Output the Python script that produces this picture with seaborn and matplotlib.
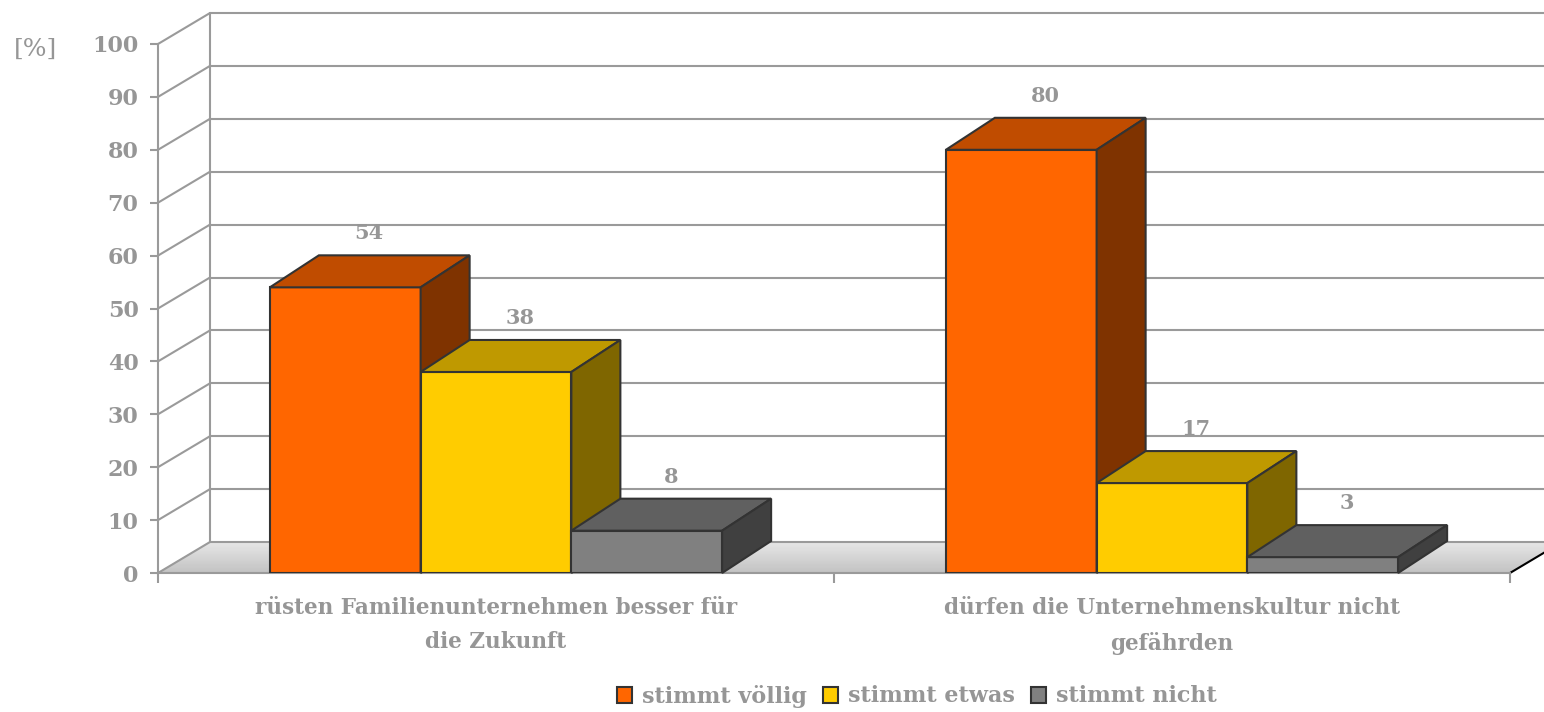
import numpy as np
import pandas as pd
import matplotlib
matplotlib.use("Agg")
import matplotlib.pyplot as plt
import seaborn as sns
from matplotlib.patches import Polygon, Patch
from matplotlib.colors import LinearSegmentedColormap

# ---------------- data ----------------
categories = ["rüsten Familienunternehmen besser für\ndie Zukunft",
              "dürfen die Unternehmenskultur nicht\ngefährden"]
series = ["stimmt völlig", "stimmt etwas", "stimmt nicht"]
stimmt_voellig = [54, 80]
stimmt_etwas = [38, 17]
stimmt_nicht = [8, 3]
yticks = [0, 10, 20, 30, 40, 50, 60, 70, 80, 90, 100]
y_unit_label = "[%]"

# ---------------- style ----------------
front_colors = ["#FF6600", "#FFCC00", "#808080"]
top_colors = ["#C04C00", "#BF9900", "#606060"]
side_colors = ["#7F3300", "#7F6600", "#404040"]
edge = "#333333"
grid = "#9a9a9a"
txt = "#969696"
WALL = (52, 31)   # pixel depth of walls
BAR = (49, 32)    # pixel depth of bars

sns.set_style("white")
plt.rcParams["font.family"] = ["DejaVu Serif", "DejaVu Sans"]

values = [stimmt_voellig, stimmt_etwas, stimmt_nicht]
df = pd.DataFrame({
    "Kategorie": [c for s in series for c in categories],
    "Serie": [s for s in series for _ in categories],
    "Wert": [v for vals in values for v in vals],
})

W, H = 1544, 712
fig = plt.figure(figsize=(W / 100, H / 100), dpi=100)
ax = fig.add_axes([158 / W, (H - 573) / H, 1352 / W, 529 / H])
ax.set_facecolor("none")

sns.barplot(data=df, x="Kategorie", y="Wert", hue="Serie", order=categories,
            hue_order=series, palette=front_colors, saturation=1, width=0.669,
            gap=0, edgecolor=edge, linewidth=1.5, legend=False, ax=ax)

x0, x1 = -0.5, len(categories) - 0.5
ax.set_xlim(x0, x1)
ax.set_ylim(0, 100)

tD = ax.transData
inv = tD.inverted()


def shift(x, y, dxp, dyp):
    X, Y = tD.transform((x, y))
    return tuple(inv.transform((X + dxp, Y + dyp)))


# back wall grid + left wall diagonals
for t in yticks:
    a = shift(x0, t, *WALL)
    b = shift(x1, t, *WALL)
    ax.plot([a[0], b[0]], [a[1], b[1]], color=grid, lw=1.5, clip_on=False, zorder=3)
    ax.plot([x0, a[0]], [t, a[1]], color=grid, lw=1.5, clip_on=False, zorder=3)
a = shift(x0, yticks[0], *WALL)
b = shift(x0, yticks[-1], *WALL)
ax.plot([a[0], b[0]], [a[1], b[1]], color=grid, lw=1.5, clip_on=False, zorder=3)

# floor with gradient (drawn as thin strips)
cmap = LinearSegmentedColormap.from_list("floor", ["#c2c2c2", "#e6e6e6"])
nstrip = 40
for i in range(nstrip):
    f0, f1 = i / nstrip, (i + 1) / nstrip
    pts = [shift(x0, 0, WALL[0] * f0, WALL[1] * f0),
           shift(x1, 0, WALL[0] * f0, WALL[1] * f0),
           shift(x1, 0, WALL[0] * f1, WALL[1] * f1),
           shift(x0, 0, WALL[0] * f1, WALL[1] * f1)]
    ax.add_patch(Polygon(pts, closed=True, facecolor=cmap((f0 + f1) / 2),
                         edgecolor=cmap((f0 + f1) / 2), lw=0.6,
                         clip_on=False, zorder=2))
fb = shift(x1, 0, *WALL)
ax.plot([x1, fb[0]], [0, fb[1]], color="black", lw=1.5, clip_on=False, zorder=3)

# 3D bars
bars = sorted([p for p in ax.patches if p.get_zorder() < 2], key=lambda p: p.get_x())
n = len(series)
for k, p in enumerate(bars):
    s = k % n
    c = k // n
    x, w, h = p.get_x(), p.get_width(), p.get_height()
    p.set_zorder(10 + 3 * k)
    top = [(x, h), (x + w, h), shift(x + w, h, *BAR), shift(x, h, *BAR)]
    side = [(x + w, 0), (x + w, h), shift(x + w, h, *BAR), shift(x + w, 0, *BAR)]
    for poly, col in ((top, top_colors[s]), (side, side_colors[s])):
        ax.add_patch(Polygon(poly, closed=True, facecolor=col, edgecolor=edge,
                             lw=1.5, joinstyle="miter", clip_on=False,
                             zorder=11 + 3 * k))
    ax.annotate(f"{values[s][c]:g}", xy=(x + w / 2, h), xytext=(24, 54),
                textcoords="offset pixels", ha="center", va="center",
                fontsize=15, fontweight="bold", color=txt, zorder=100,
                annotation_clip=False)

# axes styling
for sp in ("top", "right"):
    ax.spines[sp].set_visible(False)
for sp in ("left", "bottom"):
    ax.spines[sp].set_color(grid)
    ax.spines[sp].set_linewidth(1.5)
    ax.spines[sp].set_zorder(4)
ax.set_yticks(yticks)
ax.set_yticklabels([str(t) for t in yticks])
ax.tick_params(axis="y", direction="out", length=6, width=1.5, color=grid,
               labelsize=16, labelcolor=txt, pad=8, left=True)
for lab in ax.get_yticklabels():
    lab.set_fontweight("bold")
ax.set_xticks([x0 + i for i in range(len(categories) + 1)])
ax.set_xticklabels([""] * (len(categories) + 1))
ax.set_xticks(list(range(len(categories))), minor=True)
ax.set_xticklabels(categories, minor=True, fontsize=15.5, fontweight="bold",
                   color=txt, linespacing=1.75)
ax.tick_params(axis="x", which="major", direction="out", length=7, width=1.5,
               color=grid, bottom=True)
ax.tick_params(axis="x", which="minor", length=0, pad=17)
ax.set_xlabel("")
ax.set_ylabel("")

fig.text(36 / W, 1 - 49 / H, y_unit_label, ha="center", va="center",
         fontsize=18, color=txt)

handles = [Patch(facecolor=front_colors[i], edgecolor=edge, lw=1.5) for i in range(n)]
leg = fig.legend(handles, series, loc="center", bbox_to_anchor=(917 / W, 16 / H),
                 ncol=n, frameon=False, handlelength=0.7, handleheight=0.7,
                 handletextpad=0.45, columnspacing=0.7,
                 prop={"size": 16, "weight": "bold", "family": "DejaVu Serif"})
for t in leg.get_texts():
    t.set_color(txt)

fig.savefig("out.png", dpi=100)
